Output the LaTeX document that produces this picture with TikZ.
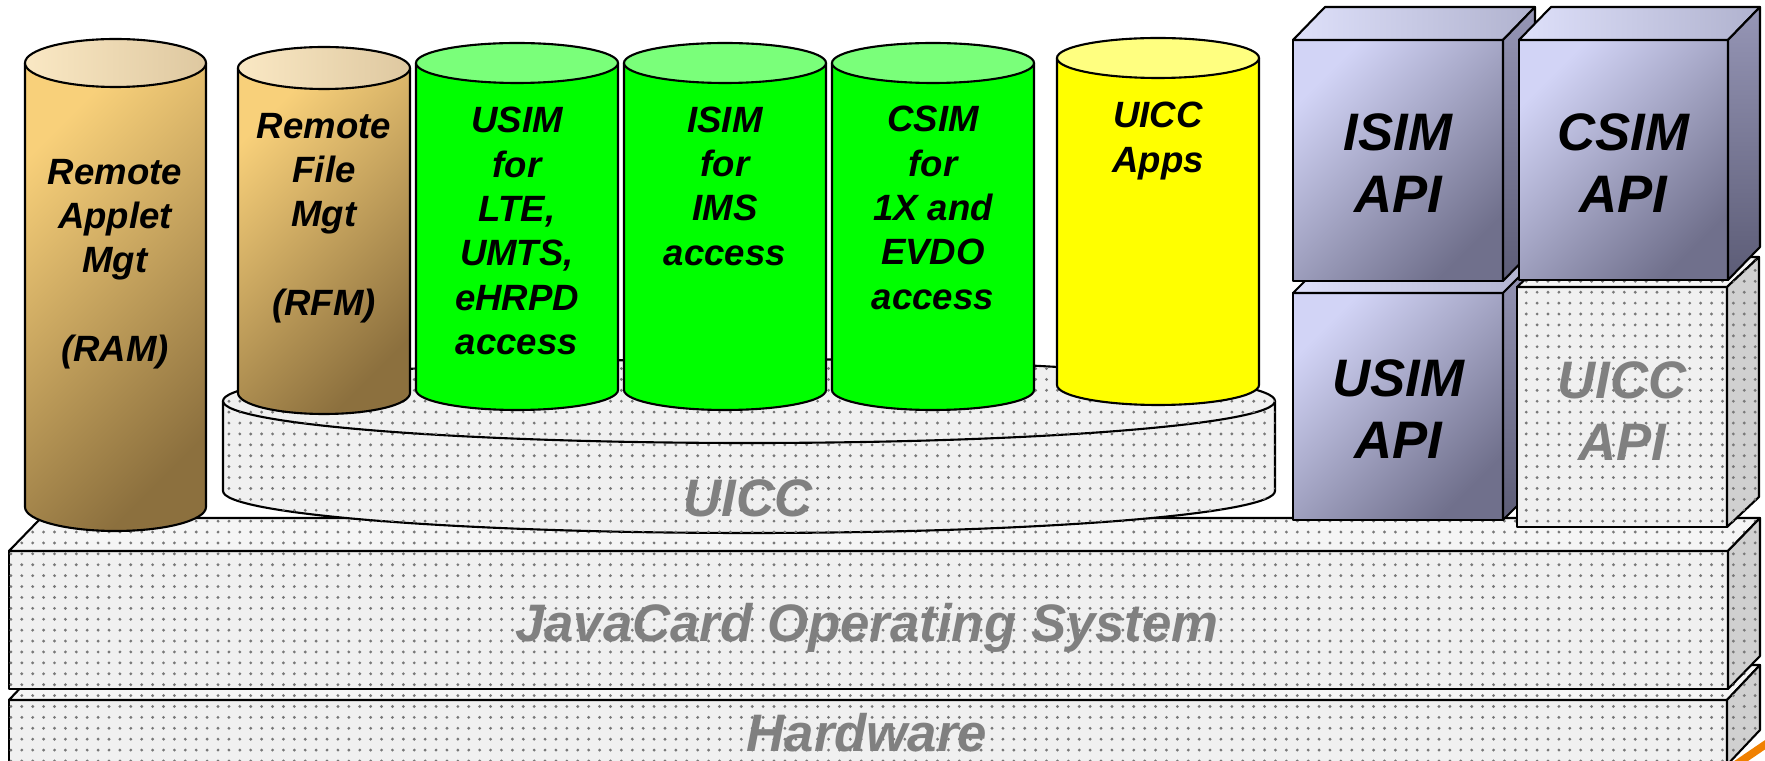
\documentclass[tikz,border=0pt]{standalone}
\usepackage{fontspec}
\setmainfont{Liberation Sans}
\usepackage{tikz}
\usetikzlibrary{patterns.meta}
\definecolor{tanlt}{RGB}{248,208,122}
\definecolor{tandk}{RGB}{140,112,62}
\definecolor{tantoplt}{RGB}{250,232,196}
\definecolor{tantopdk}{RGB}{222,200,160}
\definecolor{simgreen}{RGB}{0,255,0}
\definecolor{simgreenlt}{RGB}{122,255,122}
\definecolor{appyellow}{RGB}{255,255,0}
\definecolor{appyellowlt}{RGB}{255,255,128}
\definecolor{apilt}{RGB}{210,212,246}
\definecolor{apidk}{RGB}{112,112,140}
\definecolor{apisdlt}{RGB}{150,150,182}
\definecolor{apisddk}{RGB}{92,92,118}
\definecolor{apitplt}{RGB}{222,224,250}
\definecolor{apitpdk}{RGB}{176,178,206}
\definecolor{dotbg}{RGB}{240,240,240}
\definecolor{dotsd}{RGB}{208,208,208}
\definecolor{dottp}{RGB}{245,245,245}
\definecolor{dotgray}{RGB}{120,120,120}
\definecolor{labelgray}{RGB}{128,128,128}
\definecolor{cutorange}{RGB}{240,128,0}
% cylinder: left x, right x, top centre y, bottom centre y, y radius, kind
\newcommand{\cyl}[6]{%
\path[edge,#6body] (#1,#3) -- (#1,#4) arc[start angle=180,end angle=0,x radius={(#2-#1)/2},y radius=#5] -- (#2,#3) -- cycle;
\path[edge,#6top] ({(#1+#2)/2},#3) ellipse[x radius={(#2-#1)/2},y radius=#5];}
% block: front left, top, right, bottom, depth dx, dy, kind
\newcommand{\slab}[7]{%
\path[edge,#7front] (#1,#2) rectangle (#3,#4);
\path[edge,#7top] (#1,#2) -- ++(#5,#6) -- ({#3+#5},{#2+#6}) -- (#3,#2) -- cycle;
\path[edge,#7side] (#3,#2) -- ++(#5,#6) -- ({#3+#5},{#4+#6}) -- (#3,#4) -- cycle;}

\begin{document}
\begin{tikzpicture}[x=0.01cm,y=-0.01cm]
\tikzstyle{edge}=[draw=black,line width=0.6pt,line join=round]
\tikzstyle{dotfront}=[fill=dotbg,postaction={pattern={Dots[distance=3.1pt,radius=0.45pt]},pattern color=dotgray}]
\tikzstyle{dotside}=[fill=dotsd,postaction={pattern={Dots[distance=3.1pt,radius=0.45pt]},pattern color=dotgray}]
\tikzstyle{dottop}=[fill=dottp,postaction={pattern={Dots[distance=3.1pt,radius=0.45pt]},pattern color=dotgray}]
\tikzstyle{diskbody}=[dotfront]
\tikzstyle{disktop}=[dotfront]
\tikzstyle{tanbody}=[top color=tanlt,bottom color=tandk,shading angle=45]
\tikzstyle{tantop}=[top color=tantoplt,bottom color=tantopdk,shading angle=90]
\tikzstyle{greenbody}=[fill=simgreen]
\tikzstyle{greentop}=[fill=simgreenlt]
\tikzstyle{yellowbody}=[fill=appyellow]
\tikzstyle{yellowtop}=[fill=appyellowlt]
\tikzstyle{apifront}=[top color=apilt,bottom color=apidk,shading angle=45]
\tikzstyle{apiside}=[top color=apisdlt,bottom color=apisddk]
\tikzstyle{apitop}=[top color=apitplt,bottom color=apitpdk,shading angle=90]
\tikzstyle{smalltext}=[font=\fontsize{10.4}{12.6}\selectfont\bfseries\itshape,align=center,inner sep=0pt]
\tikzstyle{bigtext}=[font=\fontsize{15}{17.6}\selectfont\bfseries\itshape,align=center,inner sep=0pt]
\tikzstyle{greylabel}=[text=labelgray]
\useasboundingbox (0,0) rectangle (1765,761);
\clip (0,0) rectangle (1765,761);

\draw[cutorange,line width=2.2pt] (1728,770) -- (1772,740);

% base layers
\slab{9}{700}{1727}{765}{33}{-35}{dot}
\slab{9}{551}{1728}{689}{32}{-33}{dot}
\node[bigtext,greylabel,anchor=base] (hw) at (867,752) {Hardware};
\node[bigtext,greylabel,anchor=base] (jcos) at (867,642) {JavaCard Operating System};

% UICC platter and applications
\cyl{223}{1275}{401}{491}{42}{disk}
\node[bigtext,greylabel,anchor=base] (uicc) at (748,517) {UICC};
\cyl{25}{206}{63}{507}{24}{tan}
\cyl{238}{410}{68}{393}{21}{tan}
\cyl{416}{618}{63}{390}{20}{green}
\cyl{624}{826}{63}{390}{20}{green}
\cyl{832}{1034}{63}{390}{20}{green}
\cyl{1057}{1259}{58}{385}{20}{yellow}
\node[smalltext] (ram) at (115,264) {Remote\\Applet\\Mgt\\[12.6pt](RAM)};
\node[smalltext] (rfm) at (324,218) {Remote\\File\\Mgt\\[12.6pt](RFM)};
\node[smalltext] (usim) at (517,231) {USIM\\for\\LTE,\\UMTS,\\eHRPD\\access};
\node[smalltext] (isim) at (725,186) {ISIM\\for\\IMS\\access};
\node[smalltext] (csim) at (933,208) {CSIM\\for\\1X and\\EVDO\\access};
\node[smalltext] (apps) at (1158,141) {UICC\\Apps};

% API blocks
\slab{1293}{293}{1503}{520}{32}{-32}{api}
\slab{1517}{287}{1727}{527}{32}{-30}{dot}
\slab{1293}{40}{1503}{281}{32}{-33}{api}
\slab{1519}{40}{1728}{280}{32}{-33}{api}
\node[bigtext] (usimapi) at (1398,409) {USIM\\API};
\node[bigtext,greylabel] (uiccapi) at (1622,411) {UICC\\API};
\node[bigtext] (isimapi) at (1398,163) {ISIM\\API};
\node[bigtext] (csimapi) at (1623,163) {CSIM\\API};
\end{tikzpicture}
\end{document}
